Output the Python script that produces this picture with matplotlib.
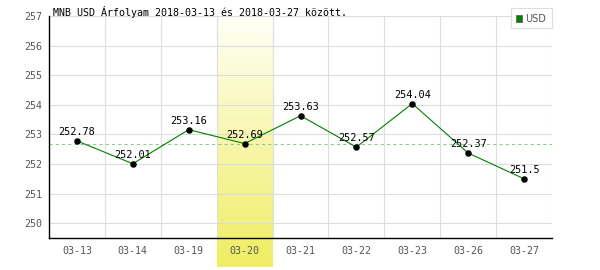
import numpy as np
import matplotlib
matplotlib.use("Agg")
import matplotlib.pyplot as plt
from matplotlib.transforms import blended_transform_factory
from matplotlib.patches import Rectangle

categories = ["03-13", "03-14", "03-19", "03-20", "03-21", "03-22", "03-23", "03-26", "03-27"]
values = [252.78, 252.01, 253.16, 252.69, 253.63, 252.57, 254.04, 252.37, 251.5]
value_labels = ["252.78", "252.01", "253.16", "252.69", "253.63", "252.57", "254.04", "252.37", "251.5"]
mean_value = 252.68
highlight_index = 3
yticks = [250, 251, 252, 253, 254, 255, 256, 257]
title = "MNB USD Árfolyam 2018-03-13 és 2018-03-27 között."
series_name = "USD"

plt.rcParams['font.family'] = ['DejaVu Sans Mono']

fig = plt.figure(figsize=(6, 2.7), dpi=100)
W, H = 600, 270
left, right, top, bottom = 49, 552, 16, 238
ax = fig.add_axes([left / W, 1 - bottom / H, (right - left) / W, (bottom - top) / H])

x = np.arange(len(categories))
ax.set_xlim(-0.5, len(categories) - 0.5)
ax.set_ylim(249.5, 257)

# highlight gradient band
n = 256
t = np.linspace(0, 1, n)[:, None]
c_top = np.array([1.0, 1.0, 0.97])
c_bot = np.array([0.94, 0.93, 0.38])
grad = (c_top * (1 - t) + c_bot * t)[:, None, :]
grad = np.repeat(grad, 2, axis=1)
trans = blended_transform_factory(ax.transData, ax.transAxes)
ext_bottom = -(H - 3 - bottom) / (bottom - top)
ax.imshow(grad, extent=[highlight_index - 0.5, highlight_index + 0.5, ext_bottom, 1.0],
          transform=trans, aspect='auto', zorder=0, clip_on=False, interpolation='bilinear')

# grid
ax.set_yticks(yticks)
ax.set_xticks(np.arange(len(categories) + 1) - 0.5, minor=True)
ax.set_xticks(x)
ax.set_xticklabels(categories)
ax.grid(True, which='minor', axis='x', color='#dddddd', linewidth=0.8, zorder=1)
ax.grid(True, which='major', axis='y', color='#dddddd', linewidth=0.8, zorder=1)
ax.tick_params(which='both', length=0)
ax.tick_params(axis='both', labelsize=7.2, colors='#555555')
ax.tick_params(axis='y', pad=5)
ax.tick_params(axis='x', pad=6)
ax.patch.set_alpha(0)

for s in ['top', 'right']:
    ax.spines[s].set_visible(False)
for s in ['left', 'bottom']:
    ax.spines[s].set_color('black')
    ax.spines[s].set_linewidth(1.0)
    ax.spines[s].set_zorder(5)

ax.axhline(mean_value, color='#88cc88', linestyle=(0, (3, 3)), linewidth=0.75, zorder=2)

ax.plot(x, values, color='#008000', linewidth=0.8, zorder=3)
ax.scatter(x, values, s=22, color='black', zorder=4, linewidths=0)

for xi, v, lab in zip(x, values, value_labels):
    ax.annotate(lab, (xi, v), xytext=(0, 4.3), textcoords='offset points',
                ha='center', va='baseline', fontsize=7.4, color='black', zorder=6)

fig.text(53 / W, 1 - 16.5 / H, title, fontsize=7.2, color='black', ha='left', va='baseline')

# legend box
lb = Rectangle((511 / W, 1 - 28 / H), 41 / W, 20 / H, transform=fig.transFigure,
               facecolor='white', edgecolor='#dddddd', linewidth=0.8)
fig.patches.append(lb)
sq = Rectangle((516 / W, 1 - 22 / H), 6 / W, 7 / H, transform=fig.transFigure,
               facecolor='#008000', edgecolor='#555555', linewidth=0.5)
fig.patches.append(sq)
fig.text(525 / W, 1 - 18.5 / H, series_name, fontsize=7, color='#555555', ha='left', va='center',
         family=['DejaVu Sans'])

fig.savefig("out.png", dpi=100)
